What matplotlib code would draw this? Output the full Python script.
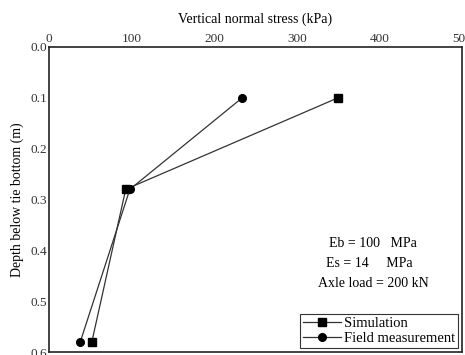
import matplotlib.pyplot as plt
import numpy as np

plt.rcParams['font.family'] = ['Liberation Serif', 'DejaVu Serif']

depth = [0.10, 0.28, 0.58]
sim_stress = [350, 93, 52]
field_stress = [234, 98, 38]
x_ticks = [0, 100, 200, 300, 400, 500]
y_ticks = [0.0, 0.1, 0.2, 0.3, 0.4, 0.5, 0.6]

fig = plt.figure(figsize=(4.65, 3.55), dpi=100)
ax = fig.add_axes([0.105, 0.008, 0.889, 0.86])

ax.plot(sim_stress, depth, color='#333333', lw=0.9, marker='s', ms=5.5,
        mfc='black', mec='black', label='Simulation')
ax.plot(field_stress, depth, color='#333333', lw=0.9, marker='o', ms=5.5,
        mfc='black', mec='black', label='Field measurement')

ax.set_xlim(0, 500)
ax.set_ylim(0.6, 0.0)
ax.xaxis.tick_top()
ax.xaxis.set_label_position('top')
ax.set_xticks(x_ticks)
ax.set_yticks(y_ticks)
ax.set_yticklabels([f'{v:.1f}' for v in y_ticks])
ax.tick_params(length=0, pad=1, labelsize=9.5, colors='#333333')
ax.set_xlabel('Vertical normal stress (kPa)', fontsize=10, labelpad=8)
ax.set_ylabel('Depth below tie bottom (m)', fontsize=10, labelpad=5)
for s in ax.spines.values():
    s.set_linewidth(1.2)
    s.set_color('#222222')

ax.text(0.785, 0.355, 'Eb = 100   MPa', transform=ax.transAxes,
        ha='center', va='center', fontsize=10)
ax.text(0.775, 0.29, 'Es = 14     MPa', transform=ax.transAxes,
        ha='center', va='center', fontsize=10)
ax.text(0.785, 0.225, 'Axle load = 200 kN', transform=ax.transAxes,
        ha='center', va='center', fontsize=10)

leg = ax.legend(loc='lower right', bbox_to_anchor=(0.99, 0.015), fontsize=10.5,
                frameon=True, fancybox=False, handlelength=2.6,
                handletextpad=0.2, borderpad=0.2, labelspacing=0.1,
                borderaxespad=0)
leg.get_frame().set_edgecolor('black')
leg.get_frame().set_linewidth(0.8)

fig.savefig('out.png', dpi=100)
